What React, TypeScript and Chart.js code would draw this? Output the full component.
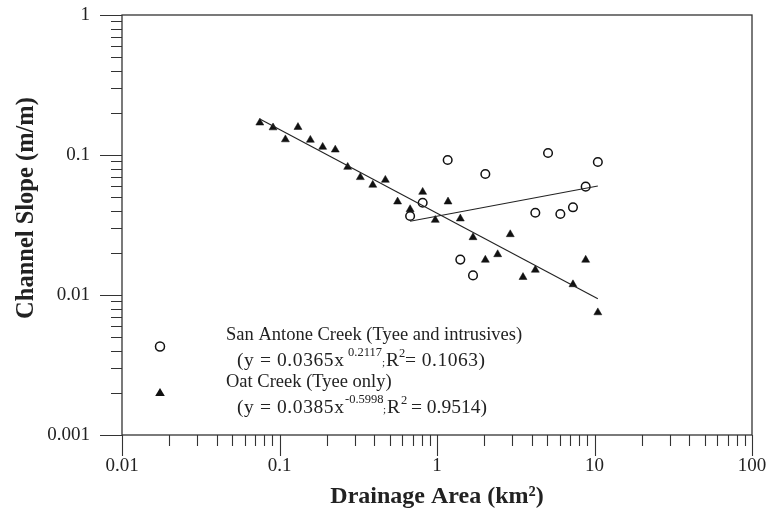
import React, { useEffect, useRef } from 'react';
import { Chart, registerables } from 'chart.js';

Chart.register(...registerables);

// Oat Creek (Tyee only) – triangles
const oatArea = [0.075, 0.091, 0.109, 0.131, 0.157, 0.188, 0.226, 0.271, 0.326, 0.391, 0.47, 0.562, 0.675, 0.811, 0.975, 1.175, 1.406, 1.693, 2.027, 2.428, 2.918, 3.516, 4.21, 7.3, 8.79, 10.5];
const oatSlope = [0.17, 0.157, 0.129, 0.158, 0.128, 0.114, 0.109, 0.082, 0.0693, 0.0611, 0.0663, 0.0464, 0.0409, 0.0544, 0.0343, 0.0464, 0.0351, 0.0258, 0.0178, 0.0195, 0.0271, 0.0134, 0.0151, 0.0119, 0.0178, 0.0075];

// San Antone Creek (Tyee and intrusives) – circles
const sanArea = [0.675, 0.811, 1.169, 1.406, 1.693, 2.027, 4.21, 5.07, 6.07, 7.3, 8.79, 10.5];
const sanSlope = [0.0367, 0.0456, 0.0921, 0.0179, 0.0138, 0.0732, 0.0387, 0.1033, 0.0379, 0.0423, 0.0594, 0.0891];

// Power-law fit lines (end points)
const oatFitArea = [0.075, 10.5];
const oatFitSlope = [0.181, 0.0094];
const sanFitArea = [0.675, 10.5];
const sanFitSlope = [0.0336, 0.06];

// Axes
const xMajorTicks = [0.01, 0.1, 1, 10, 100];
const xTickLabels = ['0.01', '0.1', '1', '10', '100'];
const yMajorTicks = [0.001, 0.01, 0.1, 1];
const yTickLabels = ['0.001', '0.01', '0.1', '1'];

const xTitle = 'Drainage Area (km\u00B2)';
const yTitle = 'Channel Slope (m/m)';

const INK = '#222';
const SERIF = '"Liberation Serif", "Times New Roman", serif';

function withMinors(majors: number[]) {
  const out: { value: number; major: boolean }[] = [];
  for (let i = 0; i < majors.length; i++) {
    out.push({ value: majors[i], major: true });
    if (i < majors.length - 1) {
      for (let m = 2; m <= 9; m++) out.push({ value: +(majors[i] * m).toPrecision(6), major: false });
    }
  }
  return out;
}

const xAllTicks = withMinors(xMajorTicks);
const yAllTicks = withMinors(yMajorTicks);

const toPts = (xs: number[], ys: number[]) => xs.map((v, i) => ({ x: v, y: ys[i] }));

const framePlugin = {
  id: 'frame',
  afterDraw(chart: any) {
    const { ctx, chartArea } = chart;
    const { left, right, top, bottom } = chartArea;
    const xs = chart.scales.x;
    const ys = chart.scales.y;
    ctx.save();
    ctx.strokeStyle = '#333';
    ctx.lineWidth = 1.3;
    ctx.strokeRect(left, top, right - left, bottom - top);

    ctx.lineWidth = 1.1;
    ctx.beginPath();
    xs.ticks.forEach((t: any) => {
      const px = Math.round(xs.getPixelForValue(t.value)) + 0.5;
      const major = xMajorTicks.indexOf(t.value) >= 0;
      ctx.moveTo(px, bottom);
      ctx.lineTo(px, bottom + (major ? 21 : 11));
    });
    ys.ticks.forEach((t: any) => {
      const py = Math.round(ys.getPixelForValue(t.value)) + 0.5;
      const major = yMajorTicks.indexOf(t.value) >= 0;
      ctx.moveTo(left, py);
      ctx.lineTo(left - (major ? 22 : 11), py);
    });
    ctx.stroke();

    // axis titles
    ctx.fillStyle = INK;
    ctx.font = `bold 24px ${SERIF}`;
    ctx.textAlign = 'center';
    ctx.textBaseline = 'middle';
    ctx.fillText(xTitle, (left + right) / 2, 497);
    ctx.save();
    ctx.translate(27, 208);
    ctx.rotate(-Math.PI / 2);
    ctx.font = `bold 24.5px ${SERIF}`;
    ctx.fillText(yTitle, 0, 0);
    ctx.restore();

    // legend
    ctx.strokeStyle = '#111';
    ctx.fillStyle = '#111';
    ctx.lineWidth = 1.5;
    ctx.beginPath();
    ctx.arc(160, 346.5, 4.5, 0, Math.PI * 2);
    ctx.stroke();
    ctx.beginPath();
    ctx.moveTo(160, 388);
    ctx.lineTo(164.8, 396);
    ctx.lineTo(155.2, 396);
    ctx.closePath();
    ctx.fill();

    ctx.fillStyle = INK;
    ctx.textAlign = 'left';
    ctx.textBaseline = 'alphabetic';
    const t = (s: string, x: number, y: number, size: number, sp = 0) => {
      ctx.font = `${size}px ${SERIF}`;
      (ctx as any).letterSpacing = `${sp}px`;
      ctx.fillText(s, x, y);
      (ctx as any).letterSpacing = '0px';
    };
    t('San Antone Creek (Tyee and intrusives)', 226, 340, 18.5);
    t('(y = 0.0365x', 237, 366, 19.5, 0.6);
    t('0.2117', 348, 356, 12.5);
    t(';', 382, 366, 11);
    t('R', 386, 366, 19.5);
    t('2', 399, 357, 12.5);
    t('= 0.1063)', 405, 366, 19.5, 0.5);
    t('Oat Creek (Tyee only)', 226, 387, 18.5);
    t('(y = 0.0385x', 237, 413, 19.5, 0.6);
    t('-0.5998', 345, 403, 12.5);
    t(';', 383, 413, 11);
    t('R', 387, 413, 19.5);
    t('2', 401, 404, 12.5);
    t('= 0.9514)', 411, 413, 19.5);
    ctx.restore();
  },
};

export default function App() {
  const ref = useRef<HTMLCanvasElement>(null);
  useEffect(() => {
    if (!ref.current) return;
    const chart = new Chart(ref.current, {
      type: 'scatter',
      data: {
        datasets: [
          {
            label: 'San Antone fit',
            data: toPts(sanFitArea, sanFitSlope),
            showLine: true,
            borderColor: INK,
            borderWidth: 1.1,
            pointRadius: 0,
          },
          {
            label: 'Oat fit',
            data: toPts(oatFitArea, oatFitSlope),
            showLine: true,
            borderColor: INK,
            borderWidth: 1.1,
            pointRadius: 0,
          },
          {
            label: 'San Antone Creek (Tyee and intrusives)',
            data: toPts(sanArea, sanSlope),
            pointStyle: 'circle',
            pointRadius: 4.3,
            borderColor: '#111',
            borderWidth: 1.5,
            backgroundColor: 'rgba(255,255,255,0)',
          },
          {
            label: 'Oat Creek (Tyee only)',
            data: toPts(oatArea, oatSlope),
            pointStyle: 'triangle',
            pointRadius: 4.6,
            borderColor: '#111',
            borderWidth: 0.5,
            backgroundColor: '#111',
          },
        ],
      },
      options: {
        animation: false,
        responsive: true,
        maintainAspectRatio: false,
        layout: { padding: { left: 0, right: 14, top: 15, bottom: 0 } },
        plugins: {
          legend: { display: false },
          tooltip: { enabled: false },
        },
        events: [],
        scales: {
          x: {
            type: 'logarithmic',
            min: 0.01,
            max: 100,
            afterBuildTicks: (scale: any) => {
              scale.ticks = xAllTicks.map((tk) => ({ value: tk.value, major: tk.major }));
            },
            afterFit: (scale: any) => {
              scale.height = 83;
              scale.paddingLeft = 0;
              scale.paddingRight = 0;
            },
            grid: { display: true, drawOnChartArea: false, drawTicks: false },
            border: { display: false },
            ticks: {
              autoSkip: false,
              maxRotation: 0,
              minRotation: 0,
              padding: 20,
              color: INK,
              font: { family: SERIF, size: 19 },
              callback: (v: any) => {
                const i = xMajorTicks.indexOf(Number(v));
                return i >= 0 ? xTickLabels[i] : '';
              },
            },
          },
          y: {
            type: 'logarithmic',
            min: 0.001,
            max: 1,
            afterBuildTicks: (scale: any) => {
              scale.ticks = yAllTicks.map((tk) => ({ value: tk.value, major: tk.major }));
            },
            afterFit: (scale: any) => {
              scale.width = 122;
              scale.paddingTop = 0;
              scale.paddingBottom = 0;
            },
            grid: { display: true, drawOnChartArea: false, drawTicks: false },
            border: { display: false },
            ticks: {
              autoSkip: false,
              padding: 32,
              color: INK,
              font: { family: SERIF, size: 19 },
              callback: (v: any) => {
                const i = yMajorTicks.indexOf(Number(v));
                return i >= 0 ? yTickLabels[i] : '';
              },
            },
          },
        },
      },
      plugins: [framePlugin],
    } as any);
    return () => chart.destroy();
  }, []);

  return (
    <div style={{ position: 'fixed', left: 0, top: 0, width: 766, height: 518, background: '#fff' }}>
      <canvas ref={ref} />
    </div>
  );
}
